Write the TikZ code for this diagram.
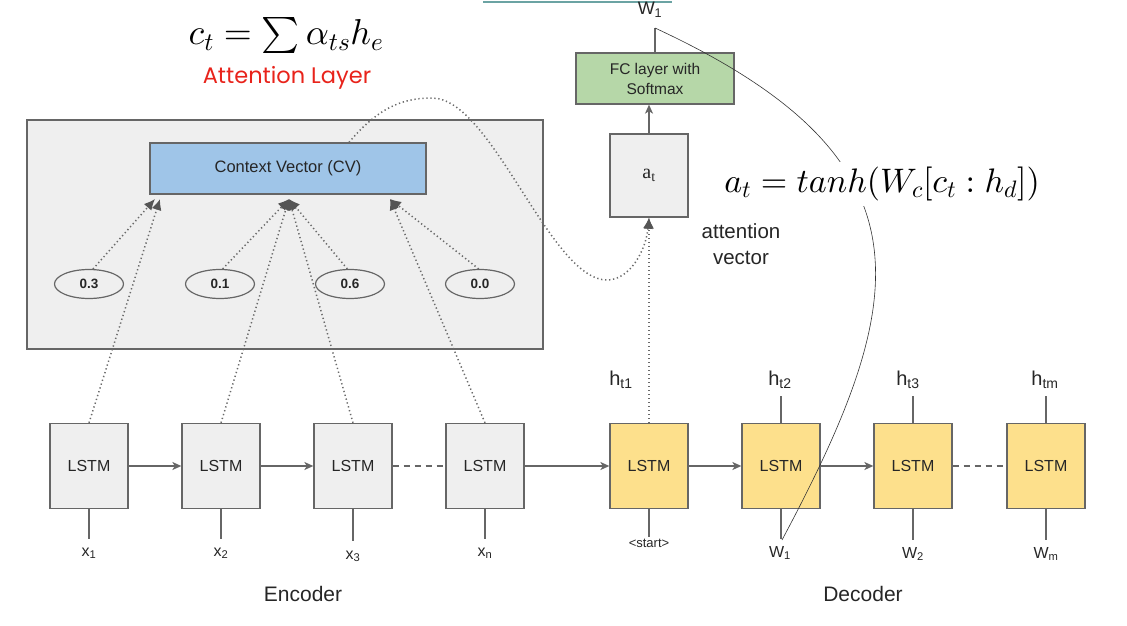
\documentclass[tikz,border=0pt]{standalone}
\usepackage{fontspec}
\setmainfont{Liberation Sans}
\newfontfamily\serifface{Liberation Serif}
\newfontfamily\handface{Poppins}
\DeclareFontShape{OML}{cmm}{m}{it}{<->cmmi10}{}
\DeclareFontShape{OMX}{cmex}{m}{n}{<->cmex10}{}
\DeclareFontShape{OMS}{cmsy}{m}{n}{<->cmsy10}{}
\DeclareFontShape{OT1}{cmr}{m}{n}{<->cmr10}{}
\usetikzlibrary{arrows.meta,shapes.geometric,calc}
\definecolor{boxgray}{HTML}{EFEFEF}
\definecolor{edge}{HTML}{666666}
\definecolor{txt}{HTML}{262626}
\definecolor{cvblue}{HTML}{9FC5E8}
\definecolor{fcgreen}{HTML}{B6D7A8}
\definecolor{boxyel}{HTML}{FDE08C}
\definecolor{dotc}{HTML}{6A6A6A}
\definecolor{tipc}{HTML}{555555}
\definecolor{attred}{HTML}{E8231B}
\definecolor{tealc}{HTML}{6BA3A3}
\definecolor{thinc}{HTML}{333333}
\begin{document}
\begin{tikzpicture}[x=1pt,y=-1pt,
  box/.style={draw=edge,line width=1.3pt,minimum width=78pt,minimum height=85pt,inner sep=0pt,font=\fontsize{16}{19}\selectfont,text=txt},
  encbox/.style={box,fill=boxgray},
  decbox/.style={box,fill=boxyel},
  wt/.style={ellipse,draw=edge,line width=1.2pt,fill=boxgray,minimum width=69pt,minimum height=29pt,inner sep=0pt,font=\fontsize{13.5}{16}\selectfont\bfseries,text=txt},
  lab/.style={font=\fontsize{16}{19}\selectfont,text=txt,inner sep=0pt,anchor=base},
  hlab/.style={font=\fontsize{20}{24}\selectfont,text=txt,inner sep=0pt,anchor=base},
  flow/.style={draw=edge,line width=1.5pt,-{Stealth[length=9pt,width=8pt,inset=2.5pt]}},
  stem/.style={draw=edge,line width=1.5pt},
  dashline/.style={draw=edge,line width=1.5pt,dash pattern=on 6pt off 5pt},
  dotarrow/.style={draw=dotc,line width=1.5pt,dash pattern=on 1.3pt off 2.7pt,-{Latex[length=11pt,width=10pt,color=tipc]}},
  thincurve/.style={draw=thinc,line width=0.6pt}
]
\useasboundingbox (0,0) rectangle (1127,626);

% top formula and label
\node[anchor=base,inner sep=0pt] (fcl) at (286,45) {\fontsize{36}{42}\selectfont$c_t=\sum\alpha_{ts}h_e$};
\node[inner sep=0pt,text=attred,font=\handface\fontsize{22.5}{26}\selectfont] (attl) at (287,78) {Attention Layer};

% teal line at the top
\coordinate (tl1) at (483,2);
\coordinate (tl2) at (672,2);
\draw[draw=tealc,line width=1.3pt] (tl1) -- (tl2);

% attention panel
\node[draw=edge,fill=boxgray,line width=1.3pt,minimum width=516pt,minimum height=229pt,inner sep=0pt] (panel) at (285,234.5) {};

% encoder and decoder LSTMs
\node[encbox] (enc1) at (89,466) {LSTM};
\node[encbox] (enc2) at (221,466) {LSTM};
\node[encbox] (enc3) at (353,466) {LSTM};
\node[encbox] (enc4) at (485,466) {LSTM};
\node[decbox] (dec1) at (649,466) {LSTM};
\node[decbox] (dec2) at (781,466) {LSTM};
\node[decbox] (dec3) at (913,466) {LSTM};
\node[decbox] (dec4) at (1046,466) {LSTM};

% weights
\node[wt] (e1) at (89,284) {0.3};
\node[wt] (e2) at (220,284) {0.1};
\node[wt] (e3) at (350,284) {0.6};
\node[wt] (e4) at (480,284) {0.0};

% context vector
\node[draw=edge,fill=cvblue,line width=1.3pt,minimum width=276pt,minimum height=51pt,inner sep=0pt,font=\fontsize{16.5}{19}\selectfont,text=txt] (cv) at (288,168.5) {Context Vector (CV)};
\coordinate (cvtop) at ($(cv.north west)!0.72!(cv.north east)$);
\coordinate (pL1) at (155,199);
\coordinate (pL2) at (160,199);
\coordinate (pC) at (289,199);
\coordinate (pR) at (390,199);

% a_t and FC layer
\node[draw=edge,fill=boxgray,line width=1.3pt,minimum width=78pt,minimum height=83pt,inner sep=0pt,font=\serifface\fontsize{20}{24}\selectfont,text=txt] (at) at (649,175.5) {a\textsubscript{t}};
\node[draw=edge,fill=fcgreen,line width=1.3pt,minimum width=158pt,minimum height=51pt,inner sep=0pt,align=center,font=\fontsize{15.5}{20}\selectfont,text=txt] (fcn) at (655,78.5) {FC layer with\\Softmax};
\node[lab,font=\fontsize{18}{21}\selectfont] (wo) at (650,15) {W\textsubscript{1}};
\coordinate (wtop) at (655,28);

% labels below
\node[lab] (x1) at (89,556) {x\textsubscript{1}};
\node[lab] (x2) at (221,556) {x\textsubscript{2}};
\node[lab] (x3) at (353,559) {x\textsubscript{3}};
\node[lab] (xn) at (485,556) {x\textsubscript{n}};
\node[lab,font=\fontsize{13}{16}\selectfont] (st) at (649,547) {<start>};
\node[lab] (w1) at (780,557) {W\textsubscript{1}};
\node[lab] (w2) at (913,558) {W\textsubscript{2}};
\node[lab] (wm) at (1046,558) {W\textsubscript{m}};
\coordinate (wb) at (782,540);

% labels above
\node[hlab] (h1) at (621,385) {h\textsubscript{t1}};
\node[hlab] (h2) at (780,385) {h\textsubscript{t2}};
\node[hlab] (h3) at (908,385) {h\textsubscript{t3}};
\node[hlab] (hm) at (1045,385) {h\textsubscript{tm}};

\node[inner sep=0pt,align=center,font=\fontsize{20.5}{26}\selectfont,text=txt] (av) at (741,244) {attention\\vector};
\node[lab,font=\fontsize{21}{25}\selectfont] (encl) at (303,601) {Encoder};
\node[lab,font=\fontsize{21}{25}\selectfont] (decl) at (863,601) {Decoder};

% horizontal connections
\draw[flow] (enc1) -- (enc2);
\draw[flow] (enc2) -- (enc3);
\draw[dashline] (enc3) -- (enc4);
\draw[flow] (enc4) -- (dec1);
\draw[flow] (dec1) -- (dec2);
\draw[flow] (dec2) -- (dec3);
\draw[dashline] (dec3) -- (dec4);

% input stems
\draw[stem,shorten >=8pt] (enc1.south) -- (enc1.south |- x1.north);
\draw[stem,shorten >=8pt] (enc2.south) -- (enc2.south |- x2.north);
\draw[stem,shorten >=9pt] (enc3.south) -- (enc3.south |- x3.north);
\draw[stem,shorten >=8pt] (enc4.south) -- (enc4.south |- xn.north);
\draw[stem,shorten >=1pt] (dec1.south) -- (dec1.south |- st.north);
\draw[stem,shorten >=7pt] (dec2.south) -- (dec2.south |- w1.north);
\draw[stem,shorten >=7pt] (dec3.south) -- (dec3.south |- w2.north);
\draw[stem,shorten >=7pt] (dec4.south) -- (dec4.south |- wm.north);

% output stems
\draw[stem,shorten >=8pt] (dec2.north) -- (dec2.north |- h2.south);
\draw[stem,shorten >=8pt] (dec3.north) -- (dec3.north |- h3.south);
\draw[stem,shorten >=8pt] (dec4.north) -- (dec4.north |- hm.south);

% attention weights into the context vector
\draw[dotarrow] (e1.75) -- (pL1);
\draw[dotarrow] (enc1.north) -- (pL2);
\draw[dotarrow] (e2.80) -- (pC);
\draw[dotarrow] (enc2.north) -- (pC);
\draw[dotarrow] (e3.100) -- (pC);
\draw[dotarrow] (enc3.north) -- (pC);
\draw[dotarrow] (e4.95) -- (pR);
\draw[dotarrow] (enc4.north) -- (pR);

% context vector and decoder state into a_t
\draw[dotarrow] (cvtop) .. controls (378,108) and (402,98) .. (432,98)
  .. controls (492,98) and (550,280) .. (607,280)
  .. controls (630,280) and (646,250) .. (at.south);
\draw[dotarrow] (dec1.north) -- (at.south);

% a_t to FC to output
\draw[flow] (at.north) -- (at.north |- fcn.south);
\draw[stem] (fcn.north) -- (wtop);

% thin annotation curve
\draw[thincurve] (wtop) .. controls (940,160) and (910,300) .. (wb);

% right formula
\node[anchor=base,inner xsep=2pt,inner ysep=5pt,fill=white] (fr) at (882,192) {\fontsize{34}{40}\selectfont$a_t=tanh(W_c[c_t:h_d])$};
\end{tikzpicture}
\end{document}
